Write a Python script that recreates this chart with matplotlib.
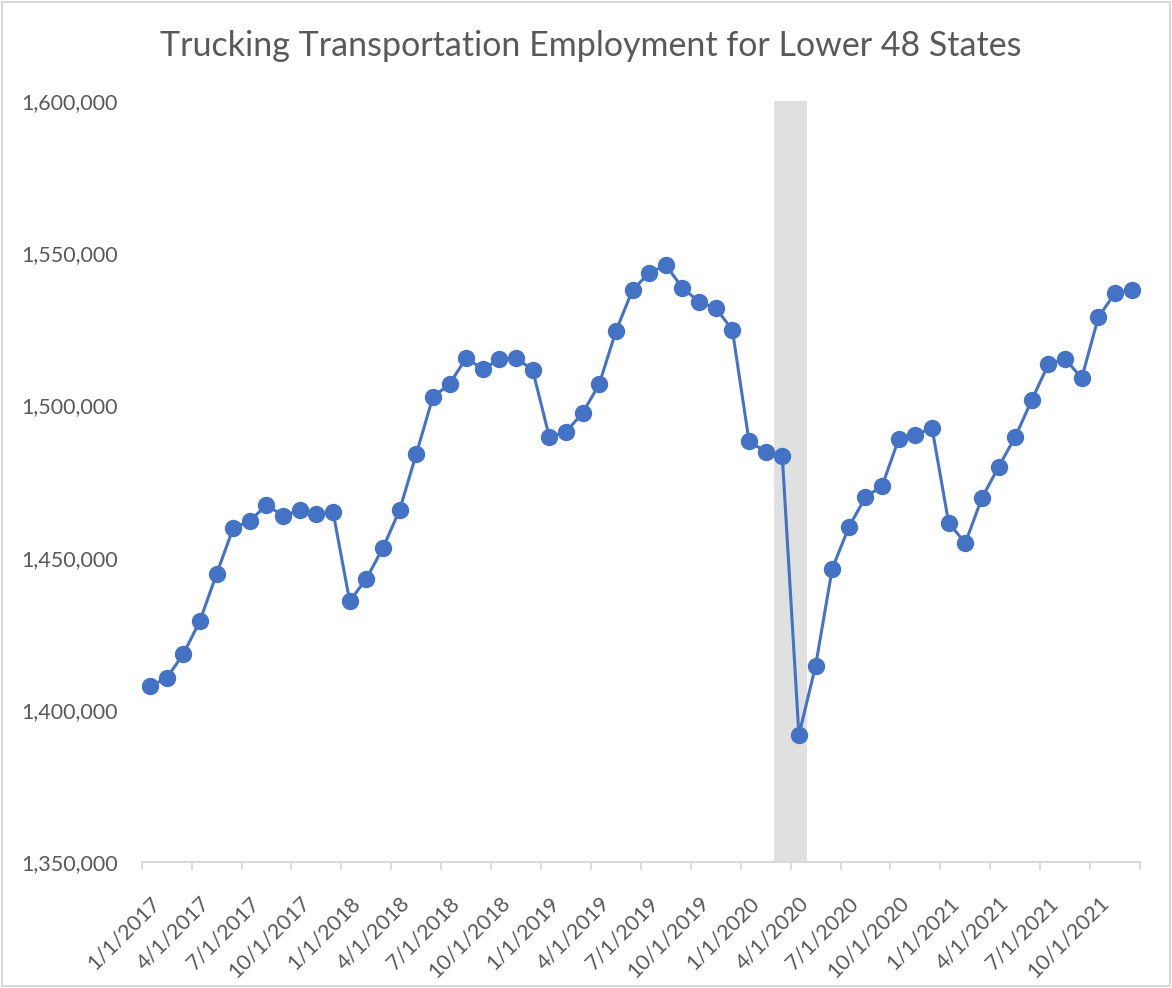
import matplotlib.pyplot as plt
import pandas as pd
from matplotlib.patches import Rectangle
from matplotlib.ticker import FuncFormatter, FixedLocator

TITLE = "Trucking Transportation Employment for Lower 48 States"

MONTHS = pd.date_range("2017-01-01", "2021-12-01", freq="MS")
LABELS = [f"{d.month}/{d.day}/{d.year}" for d in MONTHS]

EMPLOYMENT = [
    1407800, 1410400, 1418300, 1429200, 1444600, 1459700, 1462000, 1467300, 1463700, 1465600, 1464300, 1465000,
    1435700, 1443000, 1453200, 1465600, 1484000, 1502700, 1507000, 1515600, 1511900, 1515200, 1515600, 1511600,
    1489600, 1491300, 1497500, 1507000, 1524400, 1537900, 1543500, 1546100, 1538600, 1534000, 1532000, 1524800,
    1488300, 1484700, 1483400, 1391700, 1414400, 1446300, 1460000, 1469900, 1473500, 1489000, 1490300, 1492600,
    1461400, 1454800, 1469600, 1479800, 1489600, 1501800, 1513600, 1515200, 1509000, 1529000, 1536900, 1537900,
]

RECESSION = ["3/1/2020", "4/1/2020"]

LINE_COLOUR = "#4472C4"
TEXT_COLOUR = "#595959"
AXIS_COLOUR = "#D9D9D9"
BAND_COLOUR = "#E0E0E0"

plt.rcParams["font.family"] = ["Lato", "DejaVu Sans"]

fig = plt.figure(figsize=(11.72, 9.88), dpi=100)
fig.patches.append(Rectangle((0.002, 0.002), 0.996, 0.996, transform=fig.transFigure,
                             fill=False, edgecolor=AXIS_COLOUR, lw=1.5))
ax = fig.add_axes([141.7 / 1172, 126 / 988, (1140 - 141.7) / 1172, (862 - 101) / 988])

x = list(range(len(LABELS)))

# recession shading
idx = [LABELS.index(m) for m in RECESSION]
ax.axvspan(min(idx) - 0.5, max(idx) + 0.5, color=BAND_COLOUR, lw=0, zorder=0)

ax.plot(x, EMPLOYMENT, color=LINE_COLOUR, lw=2.2, marker="o", markersize=11.5, zorder=3)

ax.set_xlim(-0.5, len(LABELS) - 0.5)
ax.set_ylim(1350000, 1600000)
ax.set_yticks(range(1350000, 1600001, 50000))
ax.yaxis.set_major_formatter(FuncFormatter(lambda v, _: f"{int(v):,}"))

major = x[::3]
ax.xaxis.set_major_locator(FixedLocator(major))
ax.set_xticklabels([LABELS[i] for i in major], rotation=45, ha="right", va="top",
                   rotation_mode="anchor")
ax.xaxis.set_minor_locator(FixedLocator([i - 0.5 for i in range(0, len(LABELS) + 1, 3)]))
ax.tick_params(axis="x", which="major", length=0, pad=22, labelsize=15.5, labelcolor=TEXT_COLOUR)
ax.tick_params(axis="x", which="minor", length=6, width=1.3, color=AXIS_COLOUR)
ax.tick_params(axis="y", length=0, pad=17, labelsize=15.5, labelcolor=TEXT_COLOUR)

for s in ["top", "right", "left"]:
    ax.spines[s].set_visible(False)
ax.spines["bottom"].set_color(AXIS_COLOUR)
ax.spines["bottom"].set_linewidth(1.5)
ax.spines["bottom"].set_zorder(1)

fig.text(0.504, 1 - 46 / 988, TITLE, ha="center", va="center", fontsize=24.5, color=TEXT_COLOUR)

fig.savefig("out.png", dpi=100)
